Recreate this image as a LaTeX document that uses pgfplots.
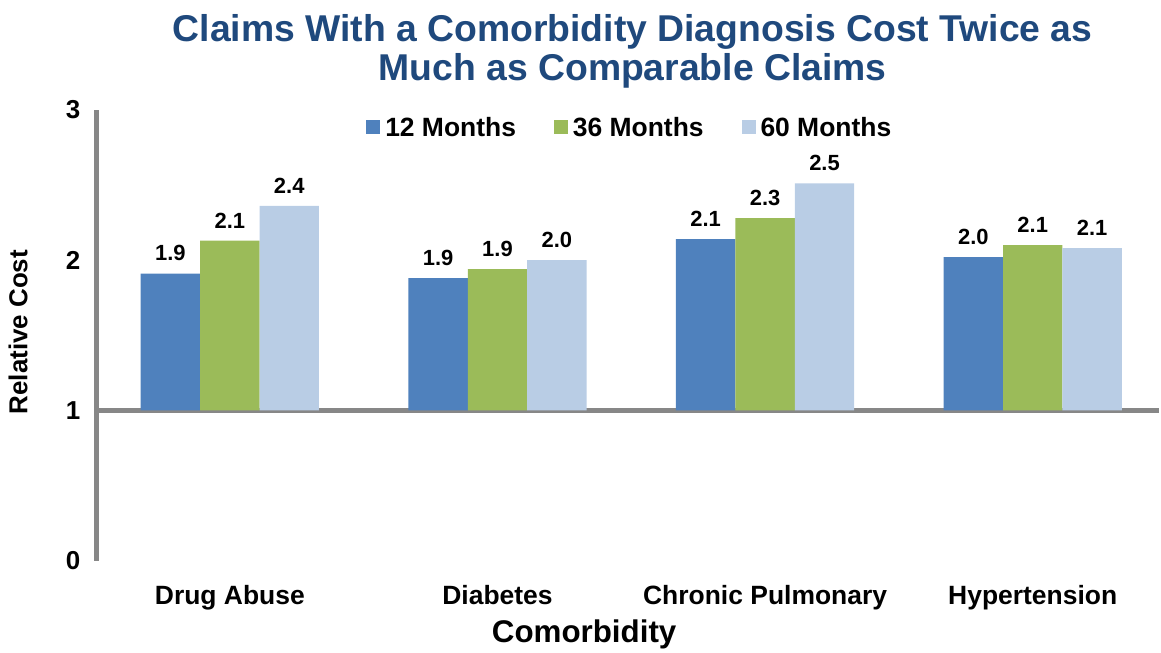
\documentclass[border=0pt]{standalone}
\usepackage{pgfplots}
\pgfplotsset{compat=1.18}
\usepackage{pgfplotstable}
\usepackage{fontspec}
\setmainfont{Liberation Sans}
\definecolor{cA}{HTML}{4F81BD}
\definecolor{cB}{HTML}{9BBB59}
\definecolor{cC}{HTML}{B9CDE5}
\definecolor{ttl}{HTML}{1F497D}
\definecolor{axgray}{HTML}{878787}

\pgfplotstableread{
x m12 m36 m60
0 1.91 2.13 2.36
1 1.88 1.94 2.00
2 2.14 2.28 2.51
3 2.02 2.10 2.08
}\data

\begin{document}
\begin{tikzpicture}[font=\bfseries]
\begin{axis}[
  scale only axis, width=1064pt, height=452pt,
  xmin=-0.497, xmax=3.47, ymin=-1, ymax=2,
  clip=false,
  ybar=0pt, bar width=0.222,
  axis lines*=left,
  x axis line style={draw=none},
  y axis line style={draw=axgray, line width=5pt},
  major tick length=0pt,
  xtick={0,1,2,3},
  xticklabels={Drug Abuse, Diabetes, Chronic Pulmonary, Hypertension},
  xticklabel style={font=\fontsize{26.5}{30}\selectfont\bfseries, yshift=-21pt},
  ytick={-1,0,1,2},
  yticklabels={0,1,2,3},
  yticklabel style={font=\fontsize{26}{30}\selectfont\bfseries, xshift=-13pt},
  extra y ticks={0},
  extra y tick labels={},
  extra y tick style={grid=major, major grid style={draw=axgray, line width=5pt}},
  xlabel={Comorbidity},
  xlabel style={at={(axis description cs:0.459,0)}, anchor=north, yshift=-56pt, font=\fontsize{31.4}{36}\selectfont\bfseries},
  ylabel={Relative Cost},
  ylabel style={at={(axis description cs:-0.0742,0.507)}, anchor=center, font=\fontsize{26}{30}\selectfont\bfseries},
  title={Claims With a Comorbidity Diagnosis Cost Twice as\\Much as Comparable Claims},
  title style={at={(axis description cs:0.5047,1)}, anchor=south, yshift=12pt, align=center, text=ttl, font=\fontsize{37.4}{39}\selectfont\bfseries},
  legend style={at={(axis description cs:0.502,0.993)}, anchor=north, draw=none, fill=none,
    legend columns=3, font=\fontsize{26.5}{30}\selectfont\bfseries,
    /tikz/every even column/.append style={column sep=36pt}},
  legend image code/.code={\fill[#1] (0pt,-7pt) rectangle (14pt,7pt); \path (17pt,0pt);},
  nodes near coords={\pgfmathprintnumber[fixed,fixed zerofill,precision=1,assume math mode=true]{\pgfplotspointmeta}},
  nodes near coords style={anchor=south, yshift=9pt, font=\fontsize{22}{26}\selectfont\bfseries, text=black},
  point meta=explicit,
]
\addplot[fill=cA, draw=none] table[x=x, y expr=\thisrow{m12}-1, meta=m12] {\data};
\addplot[fill=cB, draw=none] table[x=x, y expr=\thisrow{m36}-1, meta=m36] {\data};
\addplot[fill=cC, draw=none] table[x=x, y expr=\thisrow{m60}-1, meta=m60] {\data};
\legend{12 Months, 36 Months, 60 Months}
\path (rel axis cs:-0.0912,-0.1991) rectangle (rel axis cs:1.0,1.2434);
\end{axis}
\end{tikzpicture}
\end{document}
